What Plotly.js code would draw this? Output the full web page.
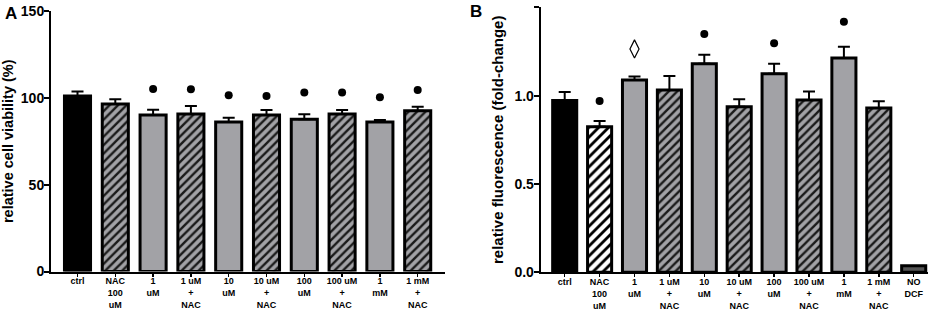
<!DOCTYPE html>
<html>
<head>
<meta charset="utf-8">
<script src="https://cdn.plot.ly/plotly-3.0.1.min.js"></script>
<style>html,body{margin:0;padding:0;background:#fff;}#chart{width:941px;height:310px;}</style>
</head>
<body>
<div id="chart"></div>
<script>
// ---------- Data ----------
const catsA = ["ctrl", "NAC<br>100<br>uM", "1<br>uM", "1 uM<br>+<br>NAC", "10<br>uM", "10 uM<br>+<br>NAC", "100<br>uM", "100 uM<br>+<br>NAC", "1<br>mM", "1 mM<br>+<br>NAC"];
const viability = [101.0, 96.5, 90.1, 90.7, 86.1, 90.1, 87.7, 90.7, 86.1, 92.5];
const viabilityErr = [2.6, 2.7, 3.1, 4.6, 2.5, 2.9, 2.8, 2.3, 1.2, 2.4];
const dotsA = [null, null, 105.1, 105.0, 101.5, 101.1, 103.0, 103.0, 100.3, 104.5];

const catsB = ["ctrl", "NAC<br>100<br>uM", "1<br>uM", "1 uM<br>+<br>NAC", "10<br>uM", "10 uM<br>+<br>NAC", "100<br>uM", "100 uM<br>+<br>NAC", "1<br>mM", "1 mM<br>+<br>NAC", "NO<br>DCF"];
const fluorescence = [0.973, 0.824, 1.088, 1.032, 1.181, 0.937, 1.124, 0.975, 1.213, 0.930, 0.037];
const fluorescenceErr = [0.047, 0.032, 0.021, 0.079, 0.050, 0.042, 0.057, 0.049, 0.064, 0.038, 0];
const dotsB = [null, 0.969, null, null, 1.349, null, 1.296, null, 1.418, null, null];
const diamondB = [null, null, 1.264, null, null, null, null, null, null, null, null];

// ---------- Styles ----------
const W = 941, H = 310;
const GRAY = "#a2a2a6";
const FONT = "Arial, 'Liberation Sans', Helvetica, sans-serif";
function style(kind) {
  if (kind === "ctrl") return {color: "#000", pattern: {shape: ""}};
  if (kind === "plain") return {color: GRAY, pattern: {shape: ""}};
  if (kind === "hatch") return {color: GRAY, pattern: {shape: "/", bgcolor: GRAY, fgcolor: "#1a1a1a", size: 6, solidity: 0.4}};
  if (kind === "white") return {color: "#fff", pattern: {shape: "/", bgcolor: "#fff", fgcolor: "#000", size: 7, solidity: 0.4}};
  if (kind === "nodcf") return {color: "#555", pattern: {shape: ""}};
}
const kindsA = ["ctrl", "hatch", "plain", "hatch", "plain", "hatch", "plain", "hatch", "plain", "hatch"];
const kindsB = ["ctrl", "white", "plain", "hatch", "plain", "hatch", "plain", "hatch", "plain", "hatch", "nodcf"];

function barTraces(cats, vals, errs, kinds, xa, ya) {
  return cats.map((c, i) => {
    const s = style(kinds[i]);
    return {
      type: "bar", x: [c], y: [vals[i]], xaxis: xa, yaxis: ya,
      marker: {color: s.color, pattern: s.pattern, line: {color: "#000", width: 3}},
      error_y: errs[i] > 0 ? {type: "data", symmetric: false, array: [errs[i]], arrayminus: [0], color: "#000", thickness: 2, width: 6} : {visible: false},
      showlegend: false, hoverinfo: "skip"
    };
  });
}

const traces = [
  ...barTraces(catsA, viability, viabilityErr, kindsA, "x", "y"),
  ...barTraces(catsB, fluorescence, fluorescenceErr, kindsB, "x2", "y2"),
  {type: "scatter", mode: "markers", x: catsA, y: dotsA, xaxis: "x", yaxis: "y",
   marker: {color: "#000", size: 8, symbol: "circle"}, showlegend: false, cliponaxis: false},
  {type: "scatter", mode: "markers", x: catsB, y: dotsB, xaxis: "x2", yaxis: "y2",
   marker: {color: "#000", size: 8, symbol: "circle"}, showlegend: false, cliponaxis: false},
  {type: "scatter", mode: "markers", x: catsB, y: diamondB, xaxis: "x2", yaxis: "y2",
   marker: {color: "#000", size: 13, symbol: "diamond-tall-open", line: {width: 1.2, color: "#000"}}, showlegend: false, cliponaxis: false}
];

// pixel geometry
const ax = {x0: 51, x1: 445, yBot: 271.5, yTop: 11, c0: 77.5, pitch: 37.8};
const bx = {x0: 540.7, x1: 928, yBot: 272.3, yTop: 7.3, c0: 564.7, pitch: 34.9};

function xAxis(g, domainAnchor) {
  return {
    domain: [g.x0 / W, g.x1 / W], anchor: domainAnchor,
    range: [(g.x0 - g.c0) / g.pitch, (g.x1 - g.c0) / g.pitch],
    type: "category", showline: true, linecolor: "#000", linewidth: 2,
    ticks: "outside", ticklen: 3, tickwidth: 1.5, tickcolor: "#000",
    ticklabelstandoff: -3,
    showgrid: false, zeroline: false, fixedrange: true,
    tickfont: {family: FONT, size: 9, color: "#000", weight: "bold"}
  };
}
function yAxis(g, range, dtick, fmt, title, tsize, anchor) {
  return {
    domain: [1 - g.yBot / H, 1 - g.yTop / H], anchor: anchor,
    range: range, dtick: dtick, tick0: 0, tickformat: fmt,
    showline: true, linecolor: "#000", linewidth: 2,
    ticks: "outside", ticklen: 5, tickwidth: 2, tickcolor: "#000",
    ticklabelstandoff: -3,
    showgrid: false, zeroline: false, fixedrange: true,
    tickfont: {family: FONT, size: 14, color: "#000", weight: "bold"},
    title: {text: title, font: {family: FONT, size: tsize, color: "#000", weight: "bold"}, standoff: 7}
  };
}

const layout = {
  width: W, height: H,
  margin: {l: 0, r: 0, t: 0, b: 0},
  paper_bgcolor: "#fff", plot_bgcolor: "#fff",
  barmode: "overlay", bargap: 0.31,
  showlegend: false,
  xaxis: xAxis(ax, "y"),
  yaxis: yAxis(ax, [0, 150], 50, "d", "relative cell viability (%)", 14.5, "x"),
  xaxis2: xAxis(bx, "y2"),
  yaxis2: yAxis(bx, [0, 1.5], 0.5, ".1f", "relative fluorescence (fold-change)", 15, "x2"),
  annotations: [
    {text: "A", x: 3 / W, y: 1 - 2 / H, xref: "paper", yref: "paper", xanchor: "left", yanchor: "top", showarrow: false,
     font: {family: FONT, size: 17, color: "#000", weight: "bold"}},
    {text: "B", x: 468 / W, y: 1, xref: "paper", yref: "paper", xanchor: "left", yanchor: "top", showarrow: false,
     font: {family: FONT, size: 17, color: "#000", weight: "bold"}}
  ]
};

Plotly.newPlot("chart", traces, layout, {staticPlot: true, displayModeBar: false});
</script>
</body>
</html>
